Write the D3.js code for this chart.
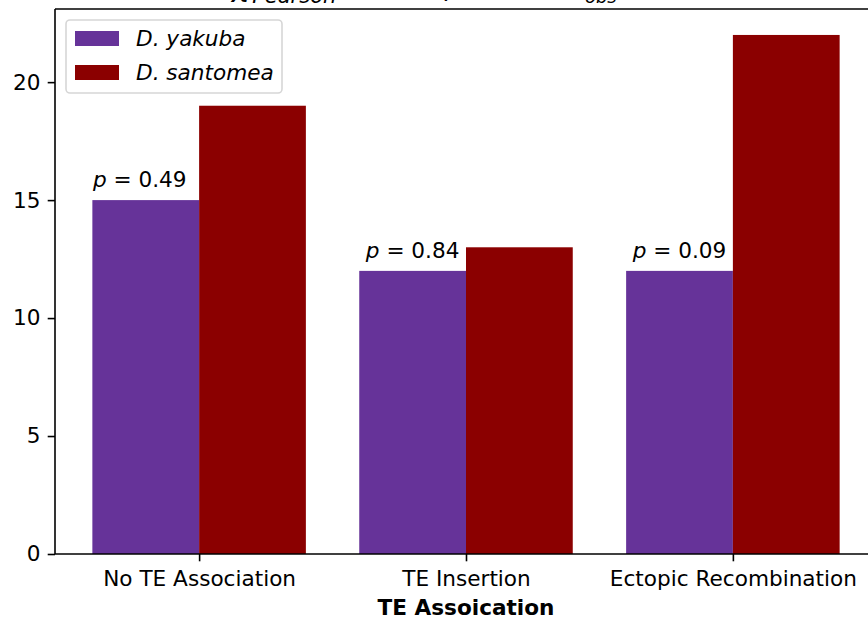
<!DOCTYPE html>
<html>
<head>
<meta charset="utf-8">
<script src="https://cdn.jsdelivr.net/npm/d3@7"></script>
<style>
  html, body { margin: 0; padding: 0; background: #fff; }
  svg { display: block; font-family: "DejaVu Sans", sans-serif; }
</style>
</head>
<body>
<svg id="chart" width="868" height="619"></svg>
<script>
// Counts of candidate genes per TE association class, by species
const categories = ["No TE Association", "TE Insertion", "Ectopic Recombination"];
const species = ["D. yakuba", "D. santomea"];
const yakuba = [15, 12, 12];
const santomea = [19, 13, 22];
const pValues = ["0.49", "0.84", "0.09"];
const yTicks = [0, 5, 10, 15, 20];

const colors = ["#663399", "#8b0000"];
const fontPx = 21.6;
const tickLen = 7.3;
const labelNudge = [-6, 0, 0];

const svg = d3.select("#chart");
const margin = { left: 55, top: 9, bottom: 554 };
const barW = 0.4;

const x = d3.scaleLinear().domain([-0.54, 2.54]).range([55, 877]);
const y = d3.scaleLinear().domain([0, 23.1]).range([margin.bottom, margin.top]);

const series = [yakuba, santomea];

// Bars: the two species side by side around each category position
series.forEach((vals, s) => {
  svg.append("g")
    .selectAll("rect")
    .data(vals)
    .join("rect")
    .attr("x", (d, i) => x(i - barW + s * barW))
    .attr("width", (d, i) => x(i + s * barW) - x(i - barW + s * barW))
    .attr("y", d => y(d))
    .attr("height", d => y(0) - y(d))
    .attr("fill", colors[s]);
});

// p-value labels above the D. yakuba bars
const pl = svg.append("g").attr("font-size", fontPx).attr("fill", "#000");
yakuba.forEach((v, i) => {
  const t = pl.append("text")
    .attr("x", x(i - barW / 2) + labelNudge[i])
    .attr("y", y(v) - 13)
    .attr("text-anchor", "middle");
  t.append("tspan").attr("font-style", "italic").text("p");
  t.append("tspan").text(" = " + pValues[i]);
});

// Axes
const yAxis = d3.axisLeft(y).tickValues(yTicks).tickSize(tickLen).tickPadding(7.3);
const gy = svg.append("g").attr("transform", `translate(${margin.left},0)`).call(yAxis);
const xAxis = d3.axisBottom(x).tickValues([0, 1, 2]).tickFormat(i => categories[i])
  .tickSize(tickLen).tickPadding(7.3);
const gx = svg.append("g").attr("transform", `translate(0,${margin.bottom})`).call(xAxis);

[gx, gy].forEach(g => {
  g.select(".domain").remove();
  g.selectAll("line").attr("stroke", "#000").attr("stroke-width", 1.6);
  g.selectAll("text").attr("font-size", fontPx).attr("fill", "#000")
    .attr("font-family", "DejaVu Sans, sans-serif");
});
gx.selectAll("text").attr("dy", "0.8em");

// Frame (left, top, bottom spines)
const frame = svg.append("g").attr("stroke", "#000").attr("stroke-width", 1.6).attr("fill", "none");
frame.append("line").attr("x1", margin.left).attr("x2", margin.left).attr("y1", margin.top).attr("y2", margin.bottom);
frame.append("line").attr("x1", margin.left).attr("x2", 868).attr("y1", margin.top).attr("y2", margin.top);
frame.append("line").attr("x1", margin.left).attr("x2", 868).attr("y1", margin.bottom).attr("y2", margin.bottom);

// Axis title
svg.append("text")
  .attr("x", x(1)).attr("y", 615)
  .attr("text-anchor", "middle")
  .attr("font-size", fontPx).attr("font-weight", "bold")
  .text("TE Assoication");

// Plot title (sits mostly above the visible canvas)
const title = svg.append("text").attr("x", 232).attr("y", -4).attr("font-size", 25).attr("fill", "#000");
title.append("tspan").attr("font-size", 30).attr("font-style", "italic").text("χ");
title.append("tspan").attr("font-size", 21).attr("dy", -12).text("2");
title.append("tspan").attr("font-size", 21).attr("font-style", "italic").attr("dx", -11).attr("dy", 19).text("Pearson");
title.append("tspan").attr("dy", -7).text(" = 1.06, ");
title.append("tspan").attr("font-style", "italic").text("p");
title.append("tspan").text(" = 0.59, ");
title.append("tspan").attr("font-style", "italic").text("n");
title.append("tspan").attr("font-size", 18).attr("font-style", "italic").attr("dy", 7).text("obs");
title.append("tspan").attr("dy", -7).text(" = 93");

// Legend
const lg = svg.append("g");
lg.append("rect")
  .attr("x", 66).attr("y", 20).attr("width", 216).attr("height", 73)
  .attr("rx", 4).attr("fill", "#fff").attr("fill-opacity", 0.8)
  .attr("stroke", "#d6d6d6").attr("stroke-width", 1.6);
species.forEach((name, s) => {
  const cy = 38.5 + s * 34;
  lg.append("rect").attr("x", 75).attr("y", cy - 7.5).attr("width", 44).attr("height", 15).attr("fill", colors[s]);
  lg.append("text").attr("x", 136).attr("y", cy + 7.5)
    .attr("font-size", fontPx).attr("font-style", "italic").text(name);
});
</script>
</body>
</html>
